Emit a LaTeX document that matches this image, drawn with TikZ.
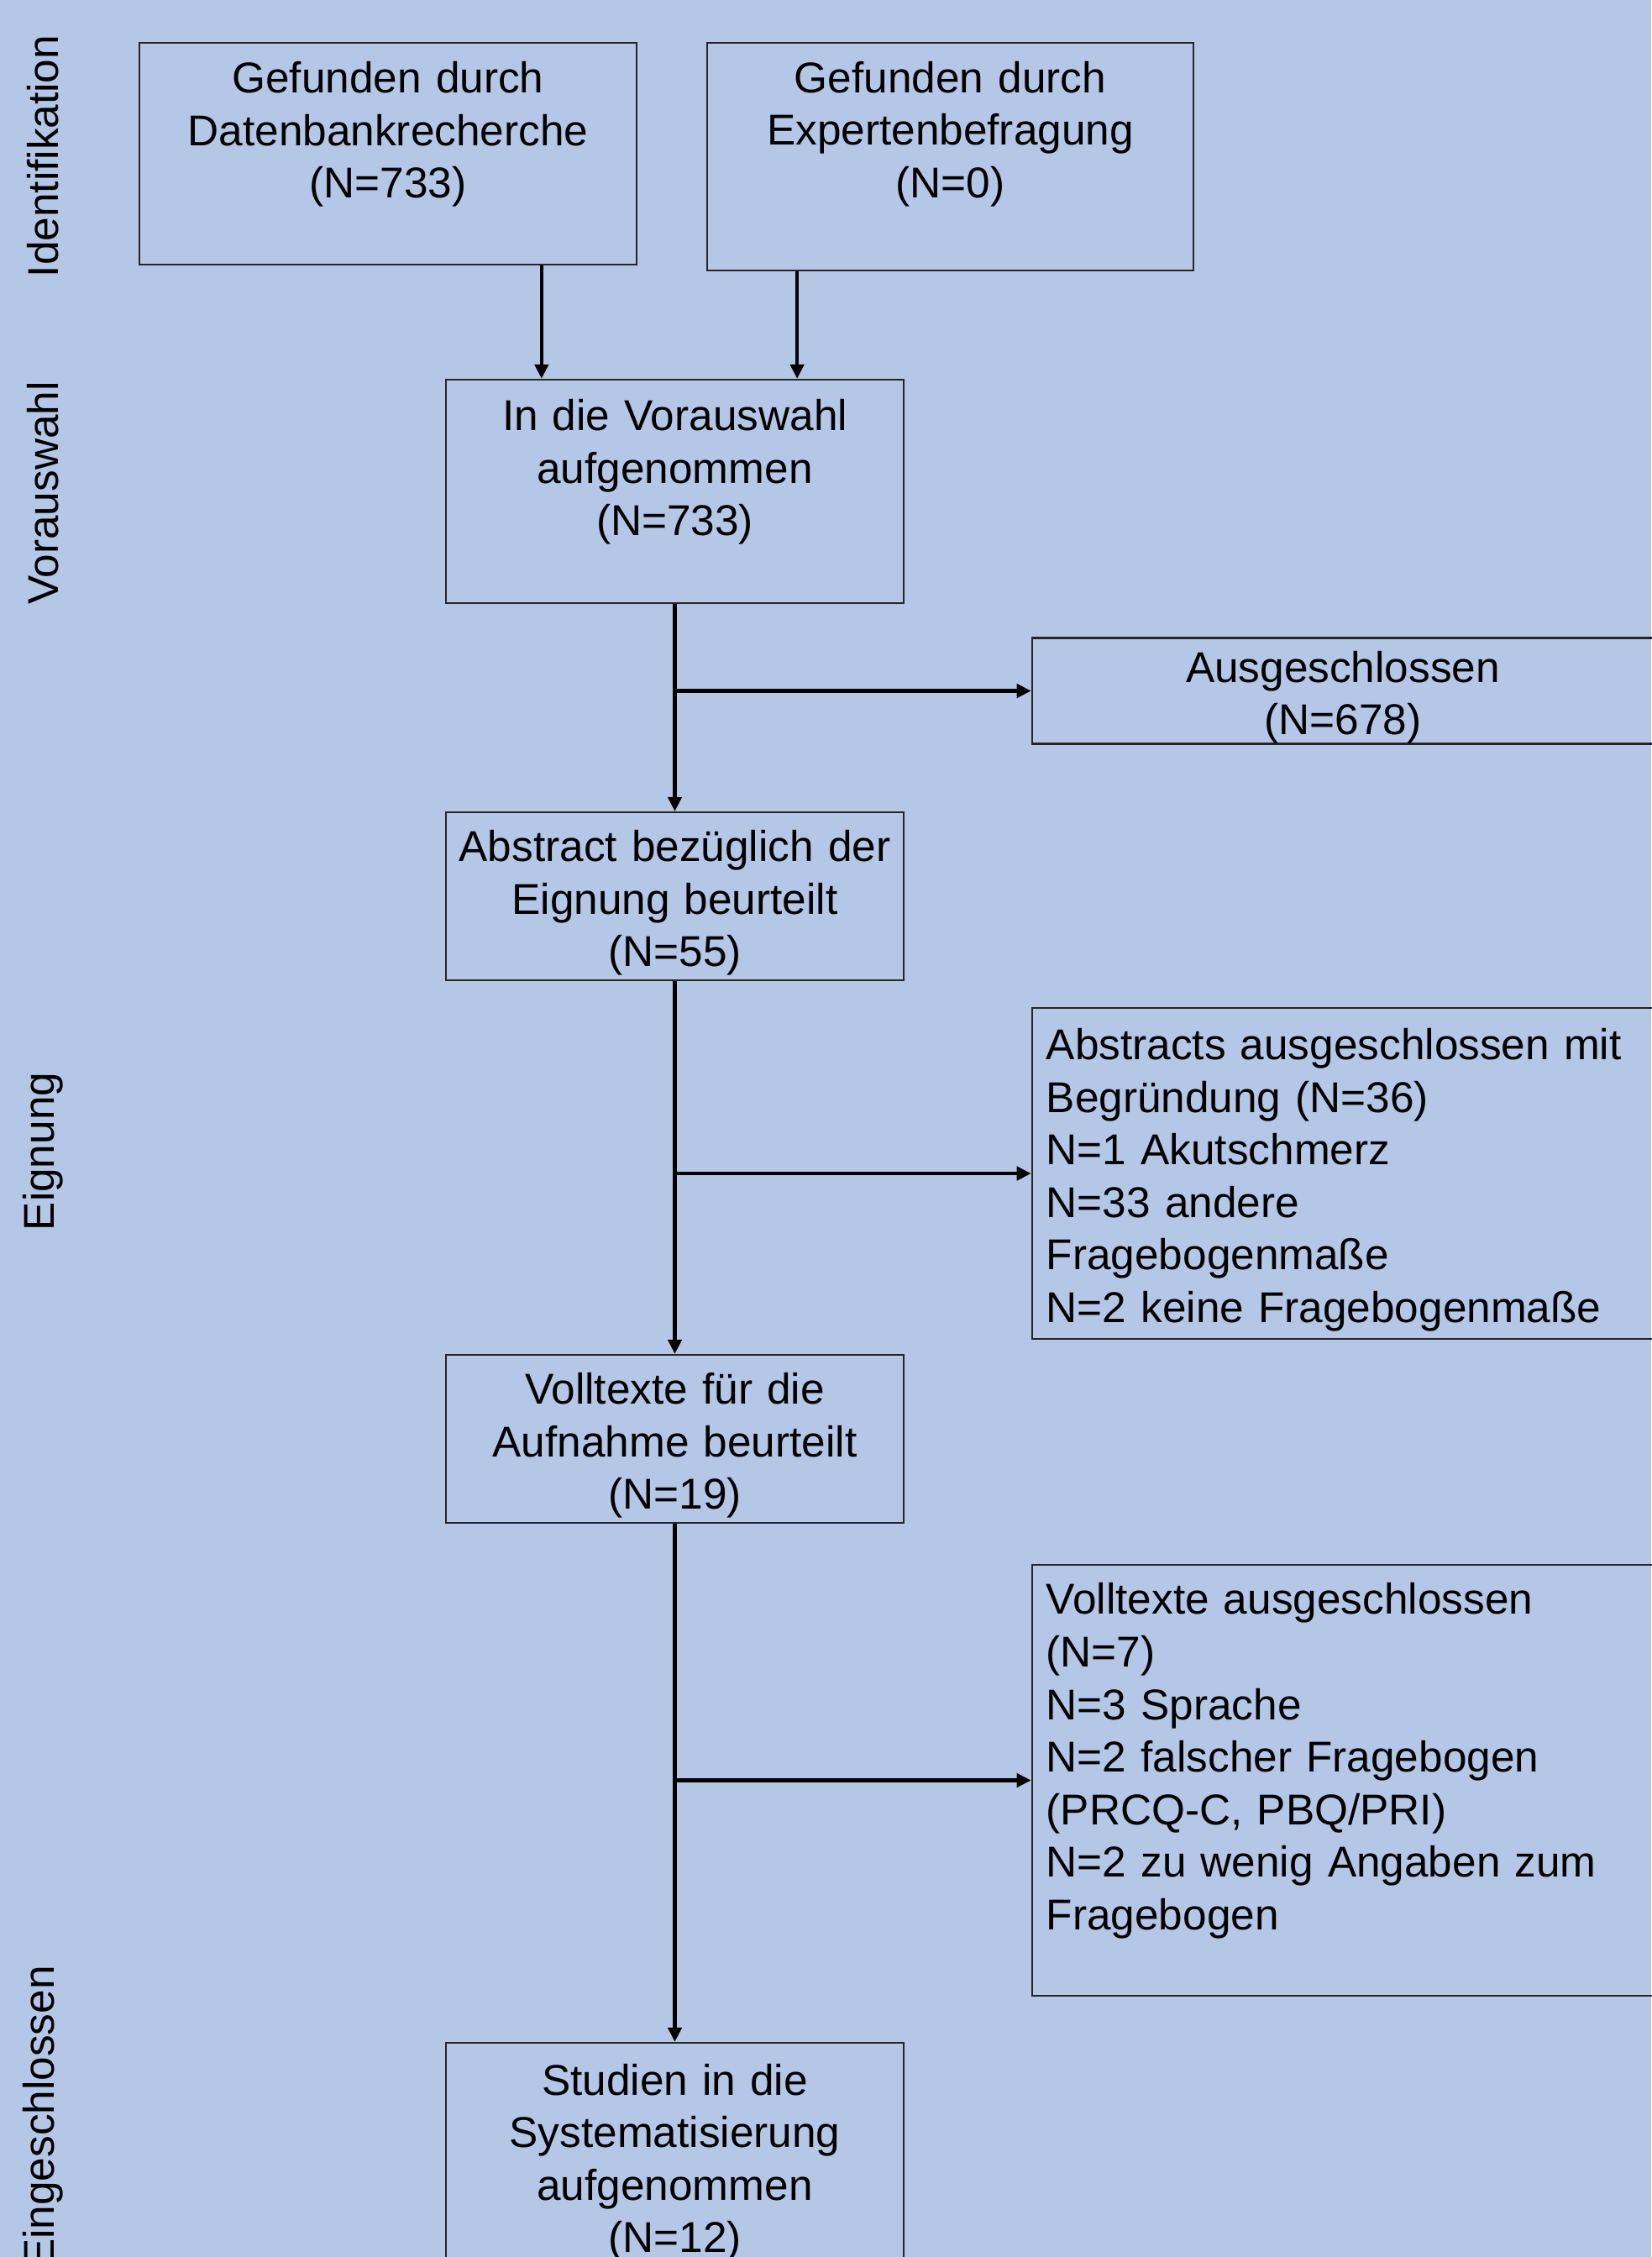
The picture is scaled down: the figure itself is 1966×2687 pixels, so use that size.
\documentclass[tikz,border=0pt]{standalone}
\usepackage{fontspec}
\setmainfont{Liberation Sans}
\usetikzlibrary{arrows.meta}
\definecolor{bgblue}{HTML}{B4C7E7}
\tikzset{
  box/.style={draw=black!85, line width=0.6pt, align=center, inner sep=0pt,
    text width=#1, minimum width=#1,
    font=\fontsize{14.6}{17.8}\selectfont,
    execute at begin node={\rule{0pt}{15pt}},
    execute at end node={\rule[-2.8pt]{0pt}{0pt}}},
  box/.default=5.45cm,
  sidebox/.style={box=7.06cm, align=left, minimum width=7.4cm, inner xsep=0.17cm},
  phase/.style={rotate=90, font=\fontsize{14.6}{17.8}\selectfont},
  arr/.style={line width=1.3pt, -{Triangle[length=0.17cm,width=0.16cm]}}
}
\begin{document}
\begin{tikzpicture}[x=0.01cm,y=-0.01cm]
\useasboundingbox (0,0) rectangle (1966,2687);
\fill[bgblue] (0,0) rectangle (1966,2687);
% Phasen
\node[phase] (idf) at (51,186) {Identifikation};
\node[phase] (vaw) at (51,587) {Vorauswahl};
\node[phase] (eig) at (51,1371) {Eignung};
\node[phase] (ein) at (51,2520) {Eingeschlossen};
% Kasten
\node[box=5.92cm, minimum height=2.64cm] (dbs) at (462,183)
  {Gefunden durch\\Datenbankrecherche\\(N=733)\\\mbox{}};
\node[box=5.79cm, minimum height=2.71cm] (exp) at (1131.5,186.5)
  {Gefunden durch\\Expertenbefragung\\(N=0)\\\rule[-5pt]{0pt}{0pt}};
\node[box, minimum height=2.66cm] (vor) at (803.5,585)
  {In die Vorauswahl\\aufgenommen\\(N=733)\\\mbox{}};
\node[box=7.4cm, minimum height=1.23cm] (aus) at (1599,822.5)
  {Ausgeschlossen\\(N=678)};
\node[box, minimum height=2cm] (abs) at (803.5,1067)
  {Abstract bezüglich der\\Eignung beurteilt\\(N=55)};
\node[sidebox, minimum height=3.94cm] (absaus) at (1599,1397)
  {Abstracts ausgeschlossen mit\\Begründung (N=36)\\N=1 Akutschmerz\\N=33 andere\\Fragebogenmaße\\N=2 keine Fragebogenmaße};
\node[box, minimum height=2cm] (vol) at (803.5,1713)
  {Volltexte für die\\Aufnahme beurteilt\\(N=19)};
\node[sidebox, minimum height=5.13cm] (volaus) at (1599,2119.5)
  {Volltexte ausgeschlossen\\(N=7)\\N=3 Sprache\\N=2 falscher Fragebogen\\(PRCQ-C, PBQ/PRI)\\N=2 zu wenig Angaben zum\\Fragebogen\\\mbox{}};
\node[box, minimum height=2.7cm] (stu) at (803.5,2567)
  {Studien in die\\Systematisierung\\aufgenommen\\(N=12)};
% Pfeile
\coordinate (in1) at ([xshift=1.15cm]vor.north west);
\coordinate (in2) at ([xshift=-1.28cm]vor.north east);
\draw[arr] (dbs.south -| in1) -- (in1);
\draw[arr] (exp.south -| in2) -- (in2);
\draw[arr] (vor) -- (abs);
\draw[arr] (abs) -- (vol);
\draw[arr] (vol) -- (stu);
\draw[arr] (vor.south |- aus.west) -- (aus.west);
\draw[arr] (abs.south |- absaus.west) -- (absaus.west);
\draw[arr] (vol.south |- volaus.west) -- (volaus.west);
\end{tikzpicture}
\end{document}
